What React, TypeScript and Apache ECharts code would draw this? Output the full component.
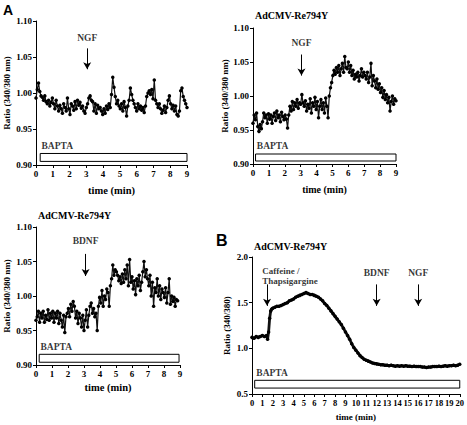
import React, { useEffect, useRef } from "react";
import * as echarts from "echarts";

// Sampling interval of the A-panel recordings (minutes)
const SAMPLE_STEP_MIN = 0.075;

// Panel A (top left): control + NGF
const A1_RATIO = [
  0.993, 1.005, 1.014, 1.002, 0.996, 0.994, 0.99, 0.996, 0.988, 0.985, 0.99, 0.982, 0.987, 0.993,
  0.985, 0.978, 0.99, 0.982, 0.975, 0.983, 0.978, 0.972, 0.985, 0.98, 0.975, 0.993, 0.978,
  0.97, 0.985, 0.982, 0.976, 0.988, 0.978, 0.99, 0.983, 0.987, 0.979, 0.982, 0.975, 0.972, 0.98,
  0.985, 0.993, 0.996, 0.99, 0.988, 0.975, 0.985, 0.972, 0.983, 0.978, 0.98, 0.975, 0.97,
  0.978, 0.972, 0.982, 0.977, 0.985, 0.98, 0.998, 1.022, 1.008, 0.995, 0.985, 0.99, 0.982,
  0.978, 0.985, 0.975, 0.988, 0.98, 0.968, 0.982, 0.99, 1.007, 0.998, 0.99, 0.985, 0.98, 0.975,
  0.985, 0.978, 0.982, 0.976, 0.98, 0.973, 0.982, 0.995, 1.0, 1.003, 0.998, 1.005, 0.992,
  1.018, 0.99, 0.985, 0.98, 0.985, 0.978, 0.972, 0.976, 0.982, 0.973, 0.98, 0.99, 0.996,
  0.985, 0.978, 0.983, 0.975, 0.982, 0.97, 0.968, 0.975, 1.003, 1.007, 0.995, 0.99, 0.985, 0.98,
];

// Panel A (top right): AdCMV-Re794Y + NGF
const A2_RATIO = [
  0.96, 0.972, 0.965, 0.975, 0.955, 0.948, 0.958, 0.952, 0.962, 0.975, 0.968, 0.972, 0.96, 0.974,
  0.966, 0.972, 0.96, 0.97, 0.975, 0.964, 0.978, 0.968, 0.972, 0.962, 0.976, 0.97, 0.965,
  0.972, 0.966, 0.953, 0.972, 0.985, 0.978, 0.992, 0.98, 0.99, 0.985, 0.995, 0.982, 0.99, 0.988,
  1.002, 0.99, 0.985, 0.993, 0.978, 0.988, 0.982, 0.996, 0.975, 0.99, 0.985, 0.998, 0.98,
  0.992, 0.968, 0.985, 0.995, 0.98, 0.99, 0.975, 0.997, 0.985, 0.968, 1.0, 1.012, 1.02,
  1.03, 1.038, 1.032, 1.042, 1.035, 1.045, 1.03, 1.04, 1.048, 1.035, 1.058, 1.042, 1.04, 1.05,
  1.035, 1.045, 1.03, 1.038, 1.025, 1.032, 1.028, 1.035, 1.022, 1.03, 1.04, 1.028, 1.035,
  1.03, 1.025, 1.035, 1.02, 1.028, 1.048, 1.015, 1.03, 1.022, 1.012, 1.025, 1.01, 1.018,
  1.005, 1.012, 0.998, 1.008, 0.995, 1.002, 0.99, 0.998, 0.978, 0.992, 1.0, 0.988, 0.996, 0.993,
];

// Panel A (bottom left): AdCMV-Re794Y + BDNF
const A3_RATIO = [
  0.965, 0.97, 0.978, 0.962, 0.975, 0.968, 0.978, 0.962, 0.972, 0.966, 0.98, 0.965, 0.975, 0.968,
  0.978, 0.962, 0.975, 0.968, 0.978, 0.96, 0.975, 0.965, 0.955, 0.972, 0.947, 0.97, 0.975,
  0.982, 0.97, 0.988, 0.978, 0.992, 0.985, 0.968, 0.978, 0.96, 0.975, 0.968, 0.955, 0.972, 0.95,
  0.965, 0.98, 0.955, 0.972, 0.985, 0.99, 0.975, 0.982, 0.97, 0.975, 0.95, 0.985, 0.998,
  0.99, 1.008, 0.985, 1.0, 0.995, 1.01, 1.005, 0.985, 1.015, 1.025, 1.045, 1.03, 1.038,
  1.035, 1.03, 1.022, 1.028, 1.018, 1.032, 1.02, 1.038, 1.025, 1.045, 1.015, 1.053, 1.02, 1.028,
  1.01, 1.022, 1.002, 1.025, 1.015, 1.03, 1.008, 1.02, 1.035, 1.05, 1.028, 1.038, 1.025,
  1.015, 1.03, 1.0, 1.02, 0.985, 1.012, 1.005, 1.025, 1.0, 1.015, 0.995, 1.01, 1.005,
  0.998, 1.012, 0.99, 1.005, 1.025, 0.988, 1.0, 0.992, 0.998, 0.985, 0.995, 0.993,
];

// Panel B: caffeine / thapsigargine store depletion
const B_TIME = [
  0, 0.2, 0.4, 0.6, 0.8, 1.0, 1.2, 1.4, 1.5, 1.6, 1.7, 1.8, 1.9, 2.0, 2.2, 2.4, 2.6, 2.8, 3.0,
  3.2, 3.4, 3.6, 3.8, 4.0, 4.2, 4.4, 4.6, 4.8, 5.0, 5.2, 5.4, 5.6, 5.8, 6.0, 6.2, 6.4, 6.6, 6.8,
  7.0, 7.2, 7.4, 7.6, 7.8, 8.0, 8.2, 8.4, 8.6, 8.8, 9.0, 9.2, 9.4, 9.6, 9.8, 10.0, 10.2, 10.4,
  10.6, 10.8, 11.0, 11.2, 11.4, 11.6, 11.8, 12.0, 12.2, 12.4, 12.6, 12.8, 13.0, 13.2, 13.4, 13.6,
  13.8, 14.0, 14.2, 14.4, 14.6, 14.8, 15.0, 15.2, 15.4, 15.6, 15.8, 16.0, 16.2, 16.4, 16.6, 16.8,
  17.0, 17.2, 17.4, 17.6, 17.8, 18.0, 18.2, 18.4, 18.6, 18.8, 19.0, 19.2, 19.4, 19.6, 19.8, 20.0,
];
const B_RATIO = [
  1.12, 1.11, 1.13, 1.12, 1.13, 1.14, 1.13, 1.14, 1.1, 1.18, 1.33, 1.41, 1.43, 1.44, 1.45, 1.46,
  1.46, 1.47, 1.48, 1.49, 1.5, 1.52, 1.53, 1.54, 1.56, 1.57, 1.58, 1.59, 1.6, 1.61, 1.6, 1.59,
  1.59, 1.58, 1.57, 1.56, 1.54, 1.52, 1.49, 1.47, 1.44, 1.41, 1.38, 1.35, 1.32, 1.29, 1.26, 1.22,
  1.18, 1.14, 1.1, 1.05, 1.01, 0.98, 0.95, 0.92, 0.9, 0.88, 0.87, 0.86, 0.85, 0.84, 0.835, 0.83,
  0.825, 0.82, 0.82, 0.815, 0.815, 0.81, 0.815, 0.81, 0.805, 0.81, 0.805, 0.81, 0.805, 0.81,
  0.805, 0.805, 0.8, 0.805, 0.8, 0.8, 0.8, 0.795, 0.795, 0.79, 0.795, 0.795, 0.8, 0.8, 0.8,
  0.805, 0.8, 0.805, 0.81, 0.805, 0.81, 0.81, 0.815, 0.81, 0.815, 0.825,
];

// BAPTA application periods [start, end] (min)
const BAPTA_A1 = [0.25, 9.0];
const BAPTA_A2 = [0.16, 9.0];
const BAPTA_A3 = [0.2, 8.94];
const BAPTA_B = [0.26, 20.0];

// Drug additions (min)
const EVENTS_A1 = [{ name: "NGF", time: 3.05 }];
const EVENTS_A2 = [{ name: "NGF", time: 3.05 }];
const EVENTS_A3 = [{ name: "BDNF", time: 3.1 }];
const EVENTS_B = [
  { name: "Caffeine /\nThapsigargine", time: 1.45 },
  { name: "BDNF", time: 12.0 },
  { name: "NGF", time: 16.0 },
];

const TITLE = "AdCMV-Re794Y";
const X_NAME = "time (min)";
const Y_NAME_A = "Ratio (340/380 nm)";
const Y_NAME_B = "Ratio (340/380)";

const SERIF = "'Liberation Serif', 'Times New Roman', serif";
const SANS = "'Liberation Sans', Arial, sans-serif";

const toPairs = (vals: number[]) => vals.map((v, i) => [+(i * SAMPLE_STEP_MIN).toFixed(3), v]);

type PanelCfg = {
  grid: { left: number; top: number; width: number; height: number };
  xMax: number;
  yMin: number;
  yMax: number;
  yInterval: number;
  yDecimals: number;
  yName: string;
  yNameGap: number;
  xNameGap: number;
  xNameSize: number;
  xLabelSize: number;
  data: number[][];
  lineWidth: number;
  symbolSize: number;
  bapta: number[];
  baptaY: [number, number];
  baptaLabelY: number;
  events: { name: string; time: number }[];
  arrowY: [number, number];
  eventLabelY: number;
  eventLabelShift?: Record<string, number>;
};

function buildOption() {
  const panels: PanelCfg[] = [
    {
      grid: { left: 36, top: 21, width: 151, height: 144 },
      xMax: 9, yMin: 0.9, yMax: 1.1, yInterval: 0.05, yDecimals: 2,
      yName: Y_NAME_A, yNameGap: 25, xNameGap: 20, xNameSize: 10.5, xLabelSize: 9,
      data: toPairs(A1_RATIO), lineWidth: 1.2, symbolSize: 3.5,
      bapta: BAPTA_A1, baptaY: [0.905, 0.916], baptaLabelY: 0.926,
      events: EVENTS_A1, arrowY: [1.062, 1.033], eventLabelY: 1.077,
    },
    {
      grid: { left: 253, top: 28, width: 143, height: 136 },
      xMax: 9, yMin: 0.9, yMax: 1.1, yInterval: 0.05, yDecimals: 2,
      yName: Y_NAME_A, yNameGap: 22, xNameGap: 20, xNameSize: 10, xLabelSize: 9,
      data: toPairs(A2_RATIO), lineWidth: 1.2, symbolSize: 3.5,
      bapta: BAPTA_A2, baptaY: [0.9044, 0.9147], baptaLabelY: 0.926,
      events: EVENTS_A2, arrowY: [1.061, 1.03], eventLabelY: 1.078,
    },
    {
      grid: { left: 36, top: 227, width: 144, height: 138 },
      xMax: 9, yMin: 0.9, yMax: 1.1, yInterval: 0.05, yDecimals: 2,
      yName: Y_NAME_A, yNameGap: 25, xNameGap: 17, xNameSize: 10.5, xLabelSize: 9,
      data: toPairs(A3_RATIO), lineWidth: 1.2, symbolSize: 3.5,
      bapta: BAPTA_A3, baptaY: [0.904, 0.9155], baptaLabelY: 0.926,
      events: EVENTS_A3, arrowY: [1.061, 1.029], eventLabelY: 1.079,
    },
    {
      grid: { left: 252, top: 257, width: 210, height: 137 },
      xMax: 20, yMin: 0.5, yMax: 2.0, yInterval: 0.5, yDecimals: 1,
      yName: Y_NAME_B, yNameGap: 21, xNameGap: 18, xNameSize: 9, xLabelSize: 8.5,
      data: B_TIME.map((t, i) => [t, B_RATIO[i]]), lineWidth: 2.8, symbolSize: 3.5,
      bapta: BAPTA_B, baptaY: [0.565, 0.65], baptaLabelY: 0.735,
      events: EVENTS_B, arrowY: [1.7, 1.465], eventLabelY: 1.83,
      eventLabelShift: { "Caffeine /\nThapsigargine": -0.52 },
    },
  ];

  const grids: any[] = [];
  const xAxes: any[] = [];
  const yAxes: any[] = [];
  const series: any[] = [];

  const axisLine = { show: true, lineStyle: { color: "#000", width: 1 } };
  const axisTick = { show: true, length: 3, lineStyle: { color: "#000", width: 1 } };

  panels.forEach((p, i) => {
    grids.push({ ...p.grid, containLabel: false });
    xAxes.push({
      gridIndex: i, type: "value", min: 0, max: p.xMax, interval: 1,
      axisLine, axisTick, splitLine: { show: false },
      axisLabel: { color: "#000", fontFamily: SERIF, fontWeight: "bold", fontSize: p.xLabelSize, margin: 4 },
      name: X_NAME, nameLocation: "middle", nameGap: p.xNameGap,
      nameTextStyle: { color: "#000", fontFamily: SERIF, fontWeight: "bold", fontSize: p.xNameSize },
    });
    yAxes.push({
      gridIndex: i, type: "value", min: p.yMin, max: p.yMax, interval: p.yInterval,
      axisLine, axisTick, splitLine: { show: false },
      axisLabel: {
        color: "#000", fontFamily: SERIF, fontWeight: "bold", fontSize: 9, margin: 4,
        formatter: (v: number) => v.toFixed(p.yDecimals),
      },
      name: p.yName, nameLocation: "middle", nameGap: p.yNameGap,
      nameTextStyle: { color: "#000", fontFamily: SERIF, fontWeight: "bold", fontSize: 9 },
    });
    series.push({
      type: "line", xAxisIndex: i, yAxisIndex: i, data: p.data,
      symbol: "circle", symbolSize: p.symbolSize, showSymbol: true,
      lineStyle: { color: "#111", width: p.lineWidth },
      itemStyle: { color: "#000" },
      emphasis: { disabled: true }, silent: true,
      markArea: {
        silent: true,
        itemStyle: { color: "#fff", borderColor: "#000", borderWidth: 1 },
        label: { show: false },
        data: [[{ coord: [p.bapta[0], p.baptaY[0]] }, { coord: [p.bapta[1], p.baptaY[1]] }]],
      },
    });
    const labelStyle = { color: "#000", fontFamily: SERIF, fontWeight: "bold", fontSize: 9.5 };
    const annData: any[] = [
      {
        name: "BAPTA", value: [p.bapta[0] + (p.xMax / 9) * 0.05, p.baptaLabelY],
        label: { show: true, position: "right", distance: 0, formatter: "{b}", ...labelStyle },
      },
    ];
    p.events.forEach((e) => {
      const shift = p.eventLabelShift?.[e.name];
      if (shift !== undefined) {
        annData.push({
          name: e.name, value: [e.time + shift, p.eventLabelY - 0.04],
          label: { show: true, position: "right", distance: 0, formatter: "{b}", lineHeight: 9.5, ...labelStyle, fontSize: 9 },
        });
      } else {
        annData.push({
          name: e.name, value: [e.time, p.eventLabelY],
          label: { show: true, position: "inside", formatter: "{b}", ...labelStyle },
        });
      }
    });
    series.push({
      type: "scatter", xAxisIndex: i, yAxisIndex: i, symbolSize: 1,
      itemStyle: { color: "rgba(0,0,0,0)" }, silent: true, emphasis: { disabled: true },
      data: annData,
      markLine: {
        silent: true, symbol: ["none", "arrow"], symbolSize: [6, 7],
        lineStyle: { color: "#000", width: 1, type: "solid" },
        label: { show: false }, emphasis: { disabled: true },
        data: p.events.map((e) => [{ coord: [e.time, p.arrowY[0]] }, { coord: [e.time, p.arrowY[1]] }]),
      },
    });
  });

  const titleStyle = { fill: "#000", fontFamily: SERIF, fontWeight: "bold", fontSize: 10 };
  return {
    animation: false,
    backgroundColor: "#fff",
    grid: grids,
    xAxis: xAxes,
    yAxis: yAxes,
    series,
    graphic: [
      { type: "text", left: 3, top: 3, style: { text: "A", fill: "#000", fontFamily: SANS, fontWeight: "bold", fontSize: 14 } },
      { type: "text", left: 216, top: 232, style: { text: "B", fill: "#000", fontFamily: SANS, fontWeight: "bold", fontSize: 16 } },
      { type: "text", left: 255, top: 10, style: { text: TITLE, ...titleStyle } },
      { type: "text", left: 38, top: 210, style: { text: TITLE, ...titleStyle } },
      { type: "text", left: 254, top: 241, style: { text: TITLE, ...titleStyle } },
    ],
  };
}

export default function App() {
  const ref = useRef<HTMLDivElement>(null);
  useEffect(() => {
    if (!ref.current) return;
    const chart = echarts.init(ref.current, undefined, { renderer: "svg" });
    chart.setOption(buildOption() as any);
    return () => chart.dispose();
  }, []);
  return (
    <div
      ref={ref}
      style={{ position: "absolute", left: 0, top: 0, width: 467, height: 425, background: "#fff" }}
    />
  );
}
